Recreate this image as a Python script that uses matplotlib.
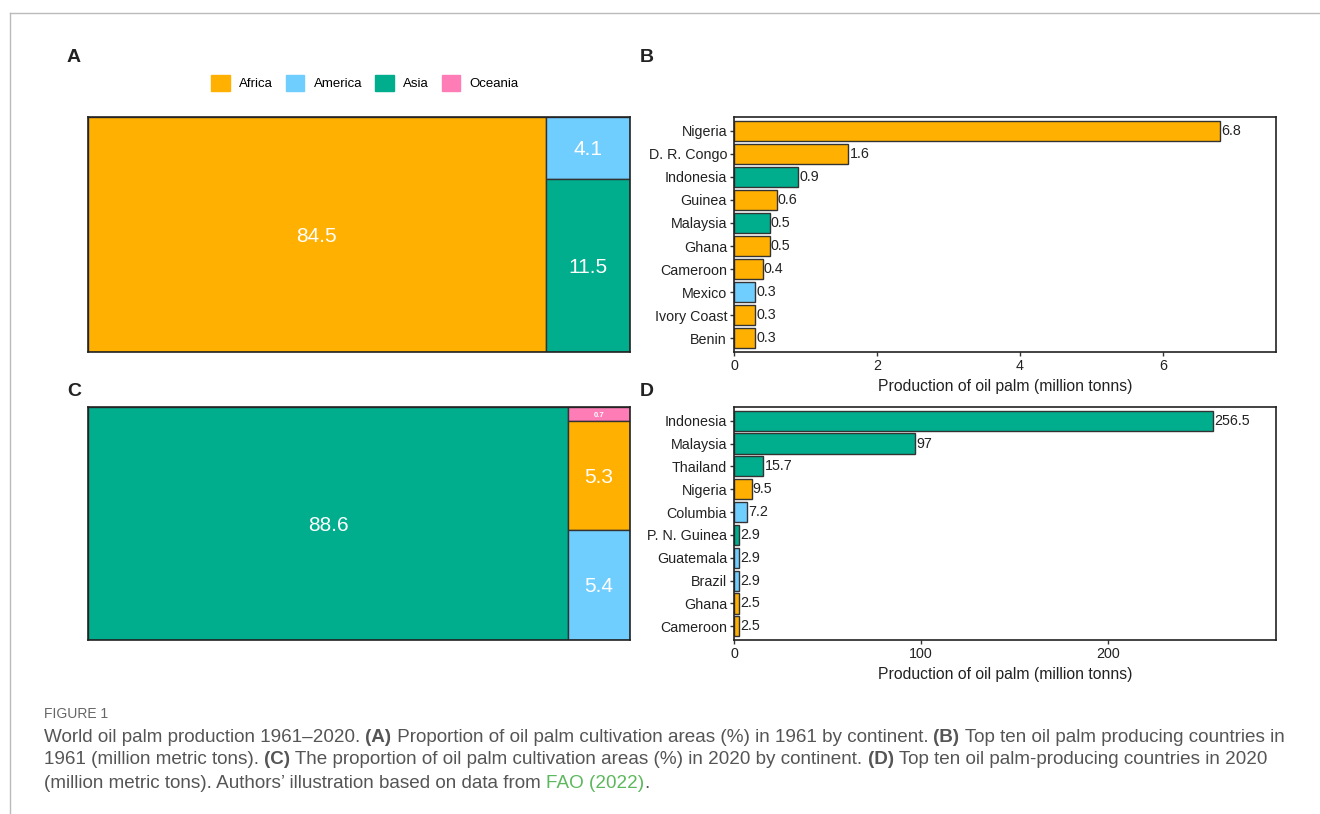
import matplotlib
matplotlib.use("Agg")
import matplotlib.pyplot as plt
from matplotlib.patches import Rectangle, Patch
from matplotlib.lines import Line2D

plt.rcParams["font.family"] = ["Liberation Sans", "DejaVu Sans"]

W, H = 1320, 814

COLORS = {"Africa": "#FFB000", "America": "#70CEFF", "Asia": "#00AD8D", "Oceania": "#FF7DB7"}
CONTINENTS = ["Africa", "America", "Asia", "Oceania"]

# panel A: share of cultivation area 1961 (%)
area61_cont = ["Africa", "America", "Asia"]
area61_val = [84.5, 4.1, 11.5]

# panel C: share of cultivation area 2020 (%)
area20_cont = ["Asia", "Oceania", "Africa", "America"]
area20_val = [88.6, 0.7, 5.3, 5.4]

# panel B: top ten producers 1961 (million tonnes)
prod61_country = ["Nigeria", "D. R. Congo", "Indonesia", "Guinea", "Malaysia", "Ghana",
                  "Cameroon", "Mexico", "Ivory Coast", "Benin"]
prod61_value = [6.8, 1.6, 0.9, 0.6, 0.5, 0.5, 0.4, 0.3, 0.3, 0.3]
prod61_cont = ["Africa", "Africa", "Asia", "Africa", "Asia", "Africa", "Africa", "America",
               "Africa", "Africa"]

# panel D: top ten producers 2020 (million tonnes)
prod20_country = ["Indonesia", "Malaysia", "Thailand", "Nigeria", "Columbia", "P. N. Guinea",
                  "Guatemala", "Brazil", "Ghana", "Cameroon"]
prod20_value = [256.5, 97, 15.7, 9.5, 7.2, 2.9, 2.9, 2.9, 2.5, 2.5]
prod20_cont = ["Asia", "Asia", "Asia", "Africa", "America", "Asia", "America", "America",
               "Africa", "Africa"]


def px_axes(fig, x0, y0, x1, y1):
    return fig.add_axes([x0 / W, 1 - y1 / H, (x1 - x0) / W, (y1 - y0) / H])


def treemap(ax, conts, vals):
    # largest tile takes full height on the left, the rest stack (ascending) on the right
    total = sum(vals)
    order = sorted(range(len(vals)), key=lambda i: vals[i], reverse=True)
    big = order[0]
    wbig = vals[big] / total
    ax.add_patch(Rectangle((0, 0), wbig, 1, facecolor=COLORS[conts[big]], edgecolor="#333333", lw=1))
    ax.text(wbig / 2, 0.5, f"{vals[big]:g}", color="white", fontsize=15, ha="center",
            va="center_baseline")
    rest = sorted(order[1:], key=lambda i: vals[i])
    rest_total = sum(vals[i] for i in rest)
    top = 1.0
    for i in rest:
        h = vals[i] / rest_total
        ax.add_patch(Rectangle((wbig, top - h), 1 - wbig, h, facecolor=COLORS[conts[i]],
                               edgecolor="#333333", lw=1))
        fs = 15 if h > 0.15 else 5.5
        ax.text(wbig + (1 - wbig) / 2, top - h / 2, f"{vals[i]:g}", color="white", fontsize=fs,
                ha="center", va="center_baseline", fontweight="bold" if fs < 8 else "normal")
        top -= h
    ax.set_xlim(0, 1); ax.set_ylim(0, 1)
    ax.set_xticks([]); ax.set_yticks([])
    for s in ax.spines.values():
        s.set_color("#222222"); s.set_linewidth(1.2)


def barpanel(ax, countries, values, conts, xmax, xticks):
    y = list(range(len(countries)))
    ax.barh(y, values, height=0.88, color=[COLORS[c] for c in conts], edgecolor="#333333", lw=1)
    for yi, v in zip(y, values):
        ax.text(v + xmax * 0.002, yi, f"{v:g}", va="center", ha="left", fontsize=10.3, color="#222222")
    ax.set_yticks(y); ax.set_yticklabels(countries, fontsize=10.3, color="#222222")
    ax.set_ylim(len(countries) - 0.4, -0.6)
    ax.set_xlim(0, xmax)
    ax.set_xticks(xticks)
    ax.set_xticklabels([f"{t:g}" for t in xticks], fontsize=10.3, color="#222222")
    ax.set_xlabel("Production of oil palm (million tonns)", fontsize=11.3, color="#222222", labelpad=4)
    ax.tick_params(length=3, width=1, pad=2, color="#333333")
    for s in ax.spines.values():
        s.set_color("#222222"); s.set_linewidth(1.2)


fig = plt.figure(figsize=(W / 100, H / 100), dpi=100)

# page border lines
fig.add_artist(Line2D([10 / W, 1], [1 - 13 / H, 1 - 13 / H], color="#bbbbbb", lw=1))
fig.add_artist(Line2D([10 / W, 10 / W], [1 - 13 / H, 0], color="#bbbbbb", lw=1))

axA = px_axes(fig, 88, 117, 630, 352)
treemap(axA, area61_cont, area61_val)
axC = px_axes(fig, 88, 407, 630, 640)
treemap(axC, area20_cont, area20_val)

axB = px_axes(fig, 734, 117, 1276, 352)
barpanel(axB, prod61_country, prod61_value, prod61_cont, 7.58, [0, 2, 4, 6])
axD = px_axes(fig, 734, 407, 1276, 640)
barpanel(axD, prod20_country, prod20_value, prod20_cont, 290, [0, 100, 200])

for lab, x, y in [("A", 74, 58), ("B", 647, 58), ("C", 74, 392), ("D", 647, 392)]:
    fig.text(x / W, 1 - y / H, lab, fontsize=14, fontweight="bold", ha="center", va="center", color="#222222")

handles = [Patch(facecolor=COLORS[c], edgecolor=COLORS[c]) for c in CONTINENTS]
fig.legend(handles, CONTINENTS, loc="center", bbox_to_anchor=(365 / W, 1 - 83 / H), ncol=4,
           frameon=False, fontsize=9.5, handlelength=1.4, handleheight=1.4, columnspacing=1.0,
           handletextpad=0.7)

# caption
fig.text(44 / W, 1 - 714 / H, "FIGURE 1", fontsize=10, color="#666666", va="center", ha="left")
cap_lines = [
    [("World oil palm production 1961\u20132020. ", "n"), ("(A)", "b"),
     (" Proportion of oil palm cultivation areas (%) in 1961 by continent. ", "n"), ("(B)", "b"),
     (" Top ten oil palm producing countries in", "n")],
    [("1961 (million metric tons). ", "n"), ("(C)", "b"),
     (" The proportion of oil palm cultivation areas (%) in 2020 by continent. ", "n"), ("(D)", "b"),
     (" Top ten oil palm-producing countries in 2020", "n")],
    [("(million metric tons). Authors\u2019 illustration based on data from ", "n"), ("FAO (2022)", "g"),
     (".", "n")],
]
renderer = fig.canvas.get_renderer()
for li, runs in enumerate(cap_lines):
    x = 44
    y = 737 + 23 * li
    for txt, st in runs:
        t = fig.text(x / W, 1 - y / H, txt, fontsize=13.6, va="center", ha="left",
                     color="#5cb85c" if st == "g" else "#555555",
                     fontweight="bold" if st == "b" else "normal")
        x += t.get_window_extent(renderer).width

fig.savefig("out.png", dpi=100)
